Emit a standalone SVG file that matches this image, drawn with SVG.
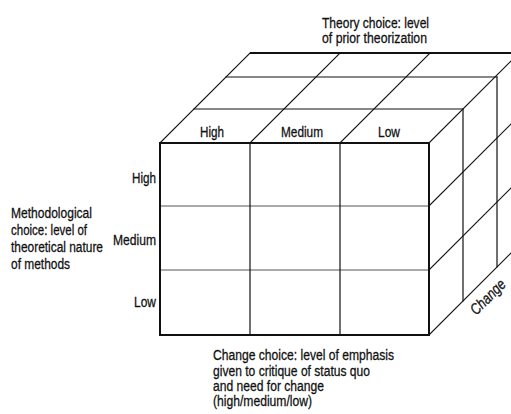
<svg xmlns="http://www.w3.org/2000/svg" width="511" height="414" viewBox="0 0 511 414">
<style>
.t{font-family:"Liberation Sans",Arial,sans-serif;font-size:15.5px;fill:#111;stroke:#111;stroke-width:0.3}
.ln{stroke:#111;stroke-width:1.2;fill:none;stroke-linecap:square}
.lt{stroke:#555;stroke-width:1;fill:none}
.th{stroke:#111;stroke-width:2;fill:none}
</style>
<rect width="511" height="414" fill="#fff"/>
<g id="cube">
  <line class="th" x1="250" y1="53" x2="511" y2="53"/>
  <line class="ln" x1="194" y1="109" x2="463" y2="109"/>
  <line class="ln" x1="226" y1="77" x2="497" y2="77"/>
  <line class="ln" x1="160" y1="143" x2="250" y2="53"/>
  <line class="ln" x1="250" y1="143" x2="340" y2="53"/>
  <line class="ln" x1="340" y1="143" x2="430" y2="53"/>
  <line class="ln" x1="429" y1="143" x2="511" y2="61"/>
  <line class="ln" x1="429" y1="206" x2="511" y2="124"/>
  <line class="ln" x1="429" y1="270" x2="511" y2="188"/>
  <line class="ln" x1="429" y1="335" x2="511" y2="253"/>
  <line class="ln" x1="463" y1="109" x2="463" y2="301"/>
  <line class="ln" x1="497" y1="77" x2="497" y2="267"/>
  <line class="lt" x1="160" y1="206" x2="429" y2="206"/>
  <line class="lt" x1="160" y1="270" x2="429" y2="270"/>
  <line class="ln" x1="250" y1="143" x2="250" y2="335"/>
  <line class="ln" x1="340" y1="143" x2="340" y2="335"/>
  <rect class="th" x="160" y="143" width="269" height="192"/>
</g>
<g id="theory-label">
  <text class="t" x="322" y="28" textLength="107" lengthAdjust="spacingAndGlyphs">Theory choice: level</text>
  <text class="t" x="322" y="43" textLength="105" lengthAdjust="spacingAndGlyphs">of prior theorization</text>
</g>
<g id="column-labels">
  <text class="t" x="200" y="137" textLength="24" lengthAdjust="spacingAndGlyphs">High</text>
  <text class="t" x="281" y="137" textLength="42" lengthAdjust="spacingAndGlyphs">Medium</text>
  <text class="t" x="378" y="137" textLength="22" lengthAdjust="spacingAndGlyphs">Low</text>
</g>
<g id="row-labels">
  <text class="t" x="132" y="183" textLength="24" lengthAdjust="spacingAndGlyphs">High</text>
  <text class="t" x="113" y="245" textLength="43" lengthAdjust="spacingAndGlyphs">Medium</text>
  <text class="t" x="134" y="307" textLength="22" lengthAdjust="spacingAndGlyphs">Low</text>
</g>
<g id="method-label">
  <text class="t" x="11" y="218" textLength="81" lengthAdjust="spacingAndGlyphs">Methodological</text>
  <text class="t" x="11" y="235" textLength="76" lengthAdjust="spacingAndGlyphs">choice: level of</text>
  <text class="t" x="11" y="252" textLength="92" lengthAdjust="spacingAndGlyphs">theoretical nature</text>
  <text class="t" x="11" y="269" textLength="59" lengthAdjust="spacingAndGlyphs">of methods</text>
</g>
<g id="change-label">
  <text class="t" x="213" y="360" textLength="181" lengthAdjust="spacingAndGlyphs">Change choice: level of emphasis</text>
  <text class="t" x="213" y="376" textLength="157" lengthAdjust="spacingAndGlyphs">given to critique of status quo</text>
  <text class="t" x="213" y="391" textLength="111" lengthAdjust="spacingAndGlyphs">and need for change</text>
  <text class="t" x="213" y="406" textLength="99" lengthAdjust="spacingAndGlyphs">(high/medium/low)</text>
</g>
<g id="change-axis">
  <text class="t" transform="translate(488,297) rotate(-45)" x="0" y="5" text-anchor="middle" font-style="italic" textLength="43" lengthAdjust="spacingAndGlyphs">Change</text>
</g>
</svg>
